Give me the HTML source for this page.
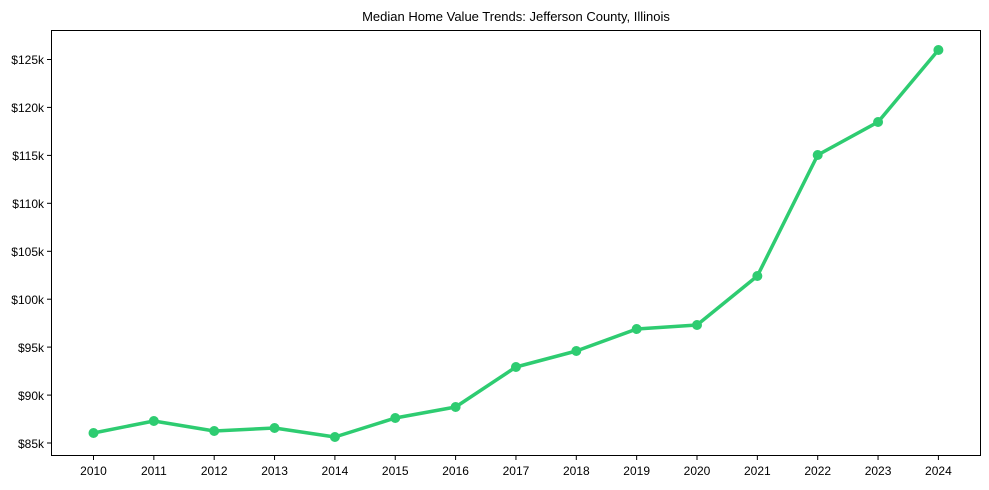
<!DOCTYPE html>
<html><head><style>body{margin:0;background:#fff}svg{display:block}</style></head><body>
<svg width="989" height="490" xmlns="http://www.w3.org/2000/svg" font-family="Liberation Sans Narrow, Liberation Sans, Arial, sans-serif" font-size="12">
<rect width="989" height="490" fill="#fff"/>
<text x="516" y="21" text-anchor="middle" font-size="13" fill="#000">Median Home Value Trends: Jefferson County, Illinois</text>
<rect x="51.5" y="30.5" width="929" height="425" fill="none" stroke="#000" stroke-width="1"/>
<g stroke="#000" stroke-width="1">
<line x1="47" x2="51.5" y1="59.5" y2="59.5"/><line x1="47" x2="51.5" y1="107.4" y2="107.4"/><line x1="47" x2="51.5" y1="155.4" y2="155.4"/><line x1="47" x2="51.5" y1="203.3" y2="203.3"/><line x1="47" x2="51.5" y1="251.3" y2="251.3"/><line x1="47" x2="51.5" y1="299.2" y2="299.2"/><line x1="47" x2="51.5" y1="347.1" y2="347.1"/><line x1="47" x2="51.5" y1="395.1" y2="395.1"/><line x1="47" x2="51.5" y1="443" y2="443"/>
</g>
<g text-anchor="end" fill="#000">
<text x="44" y="64">$125k</text><text x="44" y="112">$120k</text><text x="44" y="160">$115k</text><text x="44" y="208">$110k</text><text x="44" y="256">$105k</text><text x="44" y="304">$100k</text><text x="44" y="352">$95k</text><text x="44" y="400">$90k</text><text x="44" y="448">$85k</text>
</g>
<g id="xt" text-anchor="middle" fill="#000">
</g>
<script>
var g=document.getElementById('xt'),ns="http://www.w3.org/2000/svg";
for(var i=0;i<15;i++){var x=93.5+i*60.35;
var l=document.createElementNS(ns,'line');l.setAttribute('x1',x);l.setAttribute('x2',x);l.setAttribute('y1',455.5);l.setAttribute('y2',460);l.setAttribute('stroke','#000');g.appendChild(l);
var t=document.createElementNS(ns,'text');t.setAttribute('x',x);t.setAttribute('y',475);t.textContent=2010+i;g.appendChild(t);}
var ys=[433,421,431,428,437,418,407,367,351,329,325,276,155,122,50],pts=[];
for(var i=0;i<15;i++)pts.push((93.5+i*60.35)+','+ys[i]);
var p=document.createElementNS(ns,'polyline');p.setAttribute('points',pts.join(' '));p.setAttribute('fill','none');p.setAttribute('stroke','#2ecc71');p.setAttribute('stroke-width','3.5');p.setAttribute('stroke-linejoin','round');document.querySelector('svg').appendChild(p);
for(var i=0;i<15;i++){var c=document.createElementNS(ns,'circle');c.setAttribute('cx',93.5+i*60.35);c.setAttribute('cy',ys[i]);c.setAttribute('r',5);c.setAttribute('fill','#2ecc71');document.querySelector('svg').appendChild(c);}
</script>
</svg>
</body></html>
